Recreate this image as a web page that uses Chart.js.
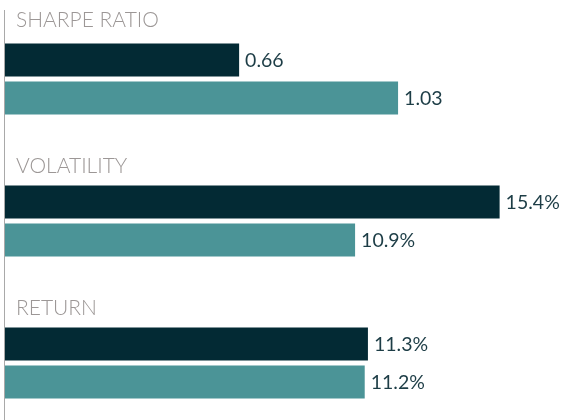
<!DOCTYPE html>
<html>
<head>
<meta charset="utf-8">
<script src="https://cdn.jsdelivr.net/npm/chart.js@4/dist/chart.umd.min.js"></script>
<style>
  html, body { margin: 0; padding: 0; background: #ffffff; overflow: hidden; width: 562px; height: 420px; }
  #wrap { position: absolute; left: 0; top: 0; width: 562px; height: 434px; }
</style>
</head>
<body>
<div id="wrap"><canvas id="c"></canvas></div>
<script>
// ---- data ----
const categories = ['SHARPE RATIO', 'VOLATILITY', 'RETURN'];
const sharpeValues = [0.66, 1.03];          // [series A, series B]
const volatilityValues = [15.4, 10.9];      // %
const returnValues = [11.3, 11.2];          // %

// ---- styling ----
const DARK = '#032a34';
const TEAL = '#4b9497';
const TITLE_GRAY = '#9c9796';
const LABEL_COLOR = '#1d3d46';
const FONT = 'Lato, "Open Sans", sans-serif';

const darkPct  = [null, volatilityValues[0], returnValues[0]];
const tealPct  = [null, volatilityValues[1], returnValues[1]];
const darkSharpe = [sharpeValues[0], null, null];
const tealSharpe = [sharpeValues[1], null, null];

const titleOffsets = [16.5, 12.5, 12.5];

const overlay = {
  id: 'overlay',
  afterDatasetsDraw(chart) {
    const ctx = chart.ctx;
    const area = chart.chartArea;
    ctx.save();
    // axis line
    ctx.strokeStyle = '#a9a9a9';
    ctx.lineWidth = 1;
    ctx.beginPath();
    ctx.moveTo(area.left - 0.5, 10);
    ctx.lineTo(area.left - 0.5, 420);
    ctx.stroke();

    // value labels
    ctx.font = '400 19.5px ' + FONT;
    ctx.fillStyle = LABEL_COLOR;
    ctx.textBaseline = 'middle';
    ctx.textAlign = 'left';
    chart.data.datasets.forEach((ds, di) => {
      const meta = chart.getDatasetMeta(di);
      meta.data.forEach((el, i) => {
        const v = ds.data[i];
        if (v === null || v === undefined) return;
        const txt = ds.isSharpe ? v.toFixed(2) : v.toFixed(1) + '%';
        ctx.fillText(txt, el.x + 6, el.y + 1);
      });
    });

    // category titles above first bar of each group
    ctx.font = '300 21px ' + FONT;
    ctx.fillStyle = TITLE_GRAY;
    ctx.textBaseline = 'alphabetic';
    categories.forEach((cat, i) => {
      const di = i === 0 ? 2 : 0;
      const el = chart.getDatasetMeta(di).data[i];
      const top = el.y - el.height / 2;
      ctx.fillText(cat, 16, top - titleOffsets[i]);
    });
    ctx.restore();
  }
};

const common = { skipNull: true, categoryPercentage: 76 / 142, barPercentage: 33 / 38, borderWidth: 0 };

new Chart(document.getElementById('c'), {
  type: 'bar',
  data: {
    labels: categories,
    datasets: [
      Object.assign({ label: 'A', data: darkPct, backgroundColor: DARK, xAxisID: 'x' }, common),
      Object.assign({ label: 'B', data: tealPct, backgroundColor: TEAL, xAxisID: 'x' }, common),
      Object.assign({ label: 'A', data: darkSharpe, backgroundColor: DARK, xAxisID: 'x2', isSharpe: true }, common),
      Object.assign({ label: 'B', data: tealSharpe, backgroundColor: TEAL, xAxisID: 'x2', isSharpe: true }, common)
    ]
  },
  options: {
    indexAxis: 'y',
    responsive: true,
    maintainAspectRatio: false,
    animation: false,
    layout: { padding: { left: 5, right: 11, top: 8, bottom: 0 } },
    plugins: { legend: { display: false }, tooltip: { enabled: false } },
    scales: {
      x: { display: false, min: 0, max: 17 },
      x2: { display: false, min: 0.115, max: 1.386 },
      y: { display: false, offset: true }
    }
  },
  plugins: [overlay]
});
</script>
</body>
</html>
